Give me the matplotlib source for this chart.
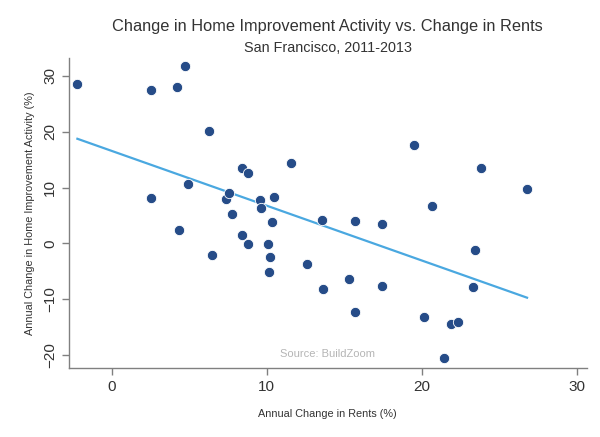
import numpy as np
import matplotlib
matplotlib.use("Agg")
import matplotlib.pyplot as plt

plt.rcParams['font.family'] = ['Liberation Sans', 'DejaVu Sans']

rent_change = [-2.2, 2.55, 4.24, 4.73, 6.28, 2.54, 4.95, 8.42, 8.77, 7.37, 7.55, 9.55,
               11.54, 10.44, 9.65, 19.46, 23.81, 26.77, 20.62, 7.74, 4.35, 8.42, 8.79,
               6.47, 10.31, 10.06, 10.21, 10.16, 13.55, 15.68, 17.4, 12.59, 13.6, 15.31,
               17.44, 15.66, 23.43, 23.28, 20.14, 21.88, 22.33, 21.43]
improvement_change = [28.5, 27.5, 28.1, 31.7, 20.1, 8.2, 10.7, 13.6, 12.7, 7.9, 9.0, 7.8,
                      14.5, 8.4, 6.3, 17.6, 13.6, 9.7, 6.8, 5.3, 2.4, 1.45, -0.05,
                      -2.1, 3.9, -0.05, -2.4, -5.1, 4.2, 4.1, 3.4, -3.6, -8.2, -6.4,
                      -7.6, -12.3, -1.1, -7.8, -13.2, -14.4, -14.1, -20.5]
x_ticks = [0, 10, 20, 30]
y_ticks = [-20, -10, 0, 10, 20, 30]

fig = plt.figure(figsize=(6.0, 4.37), dpi=100)
ax = fig.add_axes([0.115, 0.158, 0.8625, 0.709])

x = np.array(rent_change)
y = np.array(improvement_change)
slope, intercept = np.polyfit(x, y, 1)
xf = np.array([x.min(), x.max()])
ax.plot(xf, slope * xf + intercept, color='#4aa8e0', lw=1.6, zorder=2)
ax.scatter(x, y, s=55, color='#264c88', edgecolor='white', linewidth=0.6, zorder=3)

ax.set_xlim(-2.74, 30.6)
ax.set_ylim(-22.3, 33.2)
ax.set_xticks(x_ticks)
ax.set_yticks(y_ticks)
for s in ['top', 'right']:
    ax.spines[s].set_visible(False)
for s in ['left', 'bottom']:
    ax.spines[s].set_color('#808080')
    ax.spines[s].set_linewidth(1.0)
ax.tick_params(direction='out', length=5, width=1, color='#808080',
               labelsize=11, labelcolor='#333333')
for lab in ax.get_yticklabels():
    lab.set_rotation(90)
    lab.set_va('center')

ax.set_xlabel('Annual Change in Rents (%)', fontsize=7.8, color='#333333', labelpad=11)
ax.set_ylabel('Annual Change in Home Improvement Activity (%)', fontsize=7.8,
              color='#333333', labelpad=6)

fig.text(0.546, 0.928, 'Change in Home Improvement Activity vs. Change in Rents',
         ha='center', va='baseline', fontsize=11.8, color='#333333')
fig.text(0.546, 0.882, 'San Francisco, 2011-2013', ha='center', va='baseline',
         fontsize=10.4, color='#333333')
ax.text(0.5, 0.03, 'Source: BuildZoom', transform=ax.transAxes, ha='center',
        va='bottom', fontsize=8, color='#b5b5b5')

fig.savefig('out.png', dpi=100)
